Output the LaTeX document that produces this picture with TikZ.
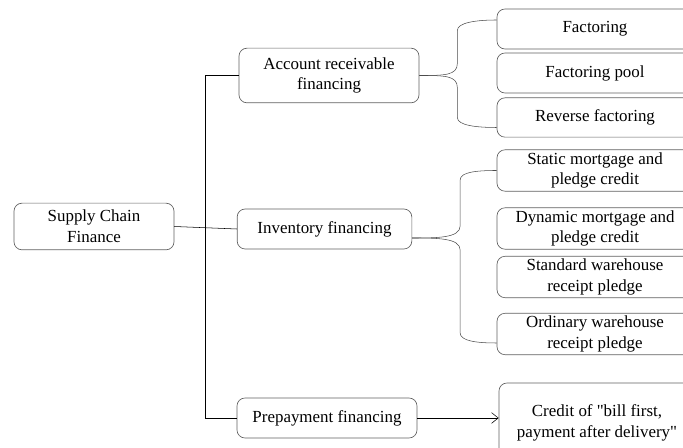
\documentclass[tikz,border=0pt]{standalone}
\usepackage{fontspec}
\setmainfont{Liberation Serif}[Ligatures=TeXOff]
\usetikzlibrary{arrows.meta}

\tikzset{
    box/.style={draw=black!62, line width=0.5pt, rounded corners=6pt, align=center, inner sep=2pt,
        font=\fontsize{12.7}{15.5}\selectfont},
    brace/.style={draw=black!70, thin},
}

\begin{document}
\begin{tikzpicture}[x=0.75pt, y=-0.75pt]
        \path[use as bounding box] (0,0) rectangle (683,448);
        \clip (0,0) rectangle (683,448);
        % left column
        \node[box, minimum width=120pt, minimum height=35pt] (scf) at (94,226.5) {Supply Chain\\Finance};
        \node[box, minimum width=135pt, minimum height=41pt] (arf) at (329,75.5) {Account receivable\\financing};
        \node[box, minimum width=131pt, minimum height=30pt] (inv) at (324.5,229) {Inventory financing};
        \node[box, minimum width=135pt, minimum height=30pt] (pre) at (327,418) {Prepayment financing};
        % right column
        \node[box, minimum width=147pt, minimum height=30pt] (fac) at (595,29) {Factoring};
        \node[box, minimum width=147pt, minimum height=30pt] (pool) at (595,73) {Factoring pool};
        \node[box, minimum width=147pt, minimum height=29.5pt] (rev) at (595,117.5) {Reverse factoring};
        \node[box, minimum width=147pt, minimum height=30.5pt] (stat) at (595,170.5) {Static mortgage and\\pledge credit};
        \node[box, minimum width=147pt, minimum height=29.5pt] (dyn) at (595,228.5) {Dynamic mortgage and\\pledge credit};
        \node[box, minimum width=147pt, minimum height=30pt] (std) at (595,277) {Standard warehouse\\receipt pledge};
        \node[box, minimum width=147pt, minimum height=29pt] (ord) at (595,334) {Ordinary warehouse\\receipt pledge};
        \node[box, minimum width=147pt, minimum height=60pt] (credit) at (597,423) {Credit of "bill first,\\payment after delivery"};
        % trunk
        \draw (scf.east) -- (inv.west);
        \draw (arf.west) -- ++(-33,0) |- (pre.west);
        \draw[-{Straight Barb[length=5pt, width=8pt]}] (pre.east) -- (pre.east -| credit.west);
        % braces
        \draw[brace] (arf.east) .. controls +(25,0) and +(0,12) .. ++(38,-12) -- ++(0,-33)
            .. controls +(0,-8) and +(-20,0) .. ([yshift=6.75pt]fac.west);
        \draw[brace] (arf.east) .. controls +(25,0) and +(0,-12) .. ++(38,12) -- ++(0,30)
            .. controls +(0,8) and +(-20,0) .. ([yshift=-7.5pt]rev.west);
        \draw[brace] ([yshift=-6.75pt]inv.east) .. controls +(25,0) and +(0,12) .. ++(48,-12) -- ++(0,-46)
            .. controls +(0,-8) and +(-20,0) .. (stat.west);
        \draw[brace] ([yshift=-6.75pt]inv.east) .. controls +(25,0) and +(0,-12) .. ++(48,12) -- ++(0,83)
            .. controls +(0,8) and +(-20,0) .. ([yshift=-6.75pt]ord.west);
\end{tikzpicture}
\end{document}
